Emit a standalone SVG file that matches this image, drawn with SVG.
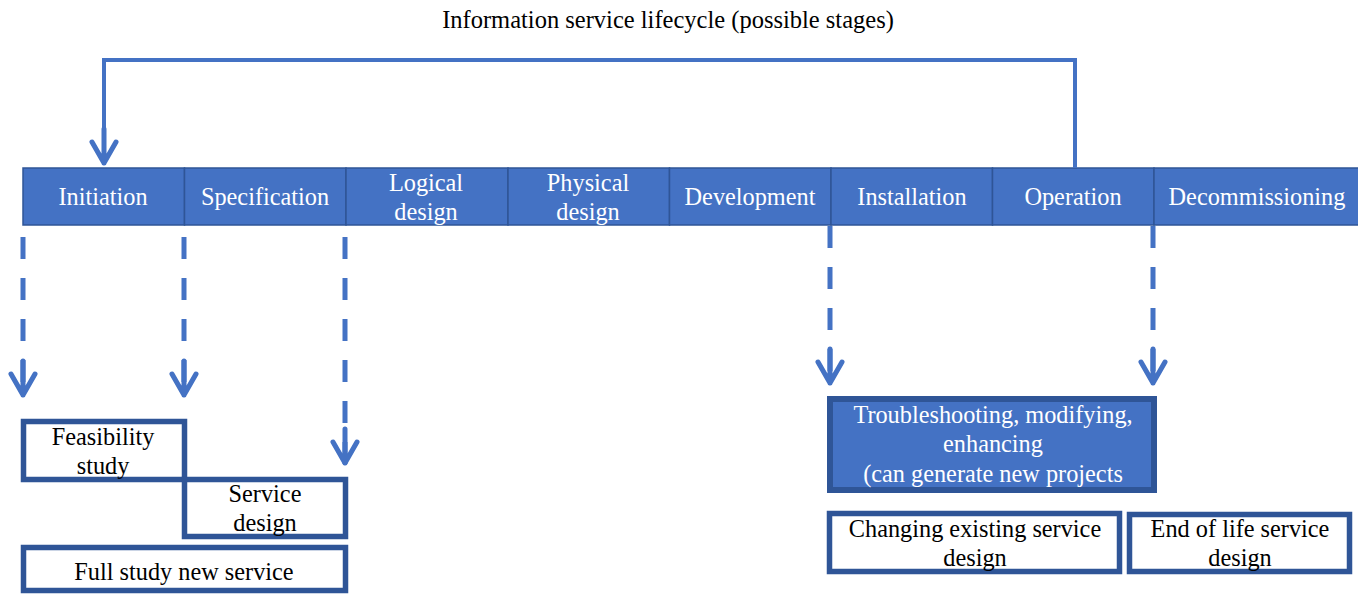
<svg xmlns="http://www.w3.org/2000/svg" width="1358" height="594" viewBox="0 0 1358 594" font-family="'Liberation Serif', 'Times New Roman', serif">
  <style>
    text { font-family: "Liberation Serif", "Times New Roman", serif; font-size: 24.3px; text-anchor: middle; }
    .title { fill: #000; font-size: 24.5px; }
    .stage rect { fill: #4472C4; stroke: #2F5597; stroke-width: 1.5; }
    .stage text { fill: #fff; }
    .box rect { fill: #fff; stroke: #2F5597; stroke-width: 5.5; }
    .box text { fill: #000; }
    .box.filled rect { fill: #4472C4; stroke: #2F5597; stroke-width: 6; }
    .box.filled text { fill: #fff; }
    .flow { fill: none; stroke: #4472C4; stroke-width: 4; }
    .dash { fill: none; stroke: #4472C4; stroke-width: 5; stroke-dasharray: 22 19; }
  </style>
  <defs>
    <marker id="chev" markerUnits="userSpaceOnUse" markerWidth="60" markerHeight="60" refX="0" refY="0" orient="auto" overflow="visible">
      <path d="M-36,0 L-2,0 M-23,-12 L-2,0 L-23,12" fill="none" stroke="#4472C4" stroke-width="5" stroke-linejoin="round" stroke-linecap="round" stroke-dasharray="none"/>
    </marker>
  </defs>

  <text class="title" x="668" y="28">Information service lifecycle  (possible stages)</text>

  <!-- lifecycle stage bar -->
  <g id="stage-initiation" class="stage">
    <rect x="23" y="168" width="161.5" height="57"/>
    <text x="103" y="205">Initiation</text>
  </g>
  <g id="stage-specification" class="stage">
    <rect x="184.5" y="168" width="161.5" height="57"/>
    <text x="265" y="205">Specification</text>
  </g>
  <g id="stage-logical" class="stage">
    <rect x="346" y="168" width="162" height="57"/>
    <text x="426" y="191">Logical</text>
    <text x="426" y="220">design</text>
  </g>
  <g id="stage-physical" class="stage">
    <rect x="508" y="168" width="161.5" height="57"/>
    <text x="588" y="191">Physical</text>
    <text x="588" y="220">design</text>
  </g>
  <g id="stage-development" class="stage">
    <rect x="669.5" y="168" width="161.5" height="57"/>
    <text x="750" y="205">Development</text>
  </g>
  <g id="stage-installation" class="stage">
    <rect x="831" y="168" width="161.5" height="57"/>
    <text x="912" y="205">Installation</text>
  </g>
  <g id="stage-operation" class="stage">
    <rect x="992.5" y="168" width="161.5" height="57"/>
    <text x="1073" y="205">Operation</text>
  </g>
  <g id="stage-decommissioning" class="stage">
    <rect x="1154" y="168" width="210" height="57"/>
    <text x="1257" y="205">Decommissioning</text>
  </g>

  <!-- outcome boxes -->
  <g id="box-feasibility" class="box">
    <rect x="23.5" y="421.5" width="161" height="58"/>
    <text x="103" y="445">Feasibility</text>
    <text x="103" y="474">study</text>
  </g>
  <g id="box-service-design" class="box">
    <rect x="184.5" y="479.5" width="161" height="57"/>
    <text x="265" y="502">Service</text>
    <text x="265" y="531">design</text>
  </g>
  <g id="box-full-study" class="box">
    <rect x="23.5" y="547.5" width="322" height="43"/>
    <text x="184" y="580">Full study new service</text>
  </g>
  <g id="box-troubleshooting" class="box filled">
    <rect x="830" y="399" width="324" height="91"/>
    <text x="993" y="423">Troubleshooting, modifying,</text>
    <text x="993" y="452">enhancing</text>
    <text x="993" y="482"> (can generate new projects</text>
  </g>
  <g id="box-changing" class="box">
    <rect x="829.5" y="513.5" width="290" height="58"/>
    <text x="975" y="537">Changing existing service</text>
    <text x="975" y="566">design</text>
  </g>
  <g id="box-end-of-life" class="box">
    <rect x="1129.5" y="514.5" width="220" height="57"/>
    <text x="1240" y="537">End of life  service</text>
    <text x="1240" y="566">design</text>
  </g>

  <!-- connectors -->
  <g id="connectors">
    <path class="flow" d="M1075,168 L1075,60 L104,60 L104,165" marker-end="url(#chev)"/>
    <path class="dash" d="M23,237 L23,397" marker-end="url(#chev)"/>
    <path class="dash" d="M184,237 L184,397" marker-end="url(#chev)"/>
    <path class="dash" d="M345,237 L345,465" marker-end="url(#chev)"/>
    <path class="dash" d="M830,226 L830,385" marker-end="url(#chev)"/>
    <path class="dash" d="M1153,226 L1153,385" marker-end="url(#chev)"/>
  </g>
</svg>
